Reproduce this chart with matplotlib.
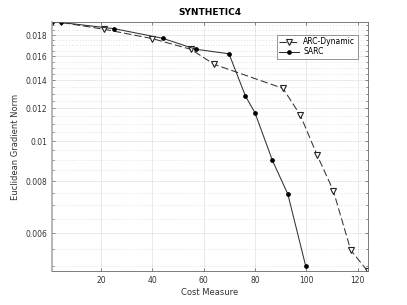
import matplotlib
matplotlib.use("Agg")
import matplotlib.pyplot as plt
from matplotlib.ticker import FixedLocator, FixedFormatter
import numpy as np

arc_x = [1, 4.5, 21.3, 40.1, 55, 64.1, 90.9, 97.7, 104.2, 110.5, 117.3, 123.9]
arc_y = [0.01935, 0.0193, 0.01858, 0.01764, 0.01663, 0.0153, 0.01339, 0.01153, 0.00925, 0.0076, 0.00546, 0.00486]

sarc_x = [1, 4.5, 25.2, 44, 57, 69.9, 76.3, 80.0, 86.8, 92.8, 99.8]
sarc_y = [0.01935, 0.0193, 0.01864, 0.01768, 0.01663, 0.01622, 0.01283, 0.0117, 0.00898, 0.00745, 0.00499]

y_ticks = [0.006, 0.008, 0.01, 0.012, 0.014, 0.016, 0.018]
y_labels = ["0.006", "0.008", "0.01", "0.012", "0.014", "0.016", "0.018"]
x_ticks = [20, 40, 60, 80, 100, 120]

fig = plt.figure(figsize=(4.07, 3.05), dpi=100)
ax = fig.add_axes([0.128, 0.111, 0.776, 0.817])

ax.plot(arc_x, arc_y, color="#333333", linestyle=(0, (7, 3)), linewidth=0.75,
        marker="v", markersize=4.2, markerfacecolor="white", markeredgecolor="#222222",
        markeredgewidth=0.8, label="ARC-Dynamic")
ax.plot(sarc_x, sarc_y, color="#333333", linestyle="-", linewidth=0.75,
        marker="o", markersize=2.4, markerfacecolor="black", markeredgecolor="black",
        label="SARC")

ax.set_yscale("log")
ax.set_xlim(1, 124)
ax.set_ylim(0.00486, 0.01935)

ax.yaxis.set_major_locator(FixedLocator(y_ticks))
ax.yaxis.set_major_formatter(FixedFormatter(y_labels))
ax.yaxis.set_minor_locator(FixedLocator(np.arange(0.005, 0.0195, 0.0005)))
ax.yaxis.set_minor_formatter(FixedFormatter([]))
ax.set_xticks(x_ticks)

ax.grid(True, which="major", color="#e6e6e6", linewidth=0.6)
ax.grid(True, which="minor", axis="y", color="#c8c8c8", linestyle=(0, (1, 3)), linewidth=0.5)
ax.set_axisbelow(True)

ax.tick_params(which="both", direction="in", top=True, right=True, labelsize=5.5,
               colors="#555555", labelcolor="#333333", length=2.5, width=0.5)
ax.tick_params(which="minor", length=1.5)
for s in ax.spines.values():
    s.set_color("#666666")
    s.set_linewidth(0.6)
ax.spines["left"].set_color("#aaaaaa")
ax.spines["left"].set_linewidth(1.2)

ax.set_xlabel("Cost Measure", fontsize=6, color="#333333", labelpad=2)
ax.set_ylabel("Euclidean Gradient Norm", fontsize=6, color="#333333", labelpad=4)
ax.set_title("SYNTHETIC4", fontsize=6.5, fontweight="bold", pad=5)

leg = ax.legend(loc="upper right", fontsize=5.5, frameon=True, fancybox=False,
                edgecolor="#666666", handlelength=2.6, handletextpad=0.5,
                borderpad=0.35, labelspacing=0.15, bbox_to_anchor=(0.98, 0.965))
leg.get_frame().set_linewidth(0.6)

fig.savefig("out.png", dpi=100)
